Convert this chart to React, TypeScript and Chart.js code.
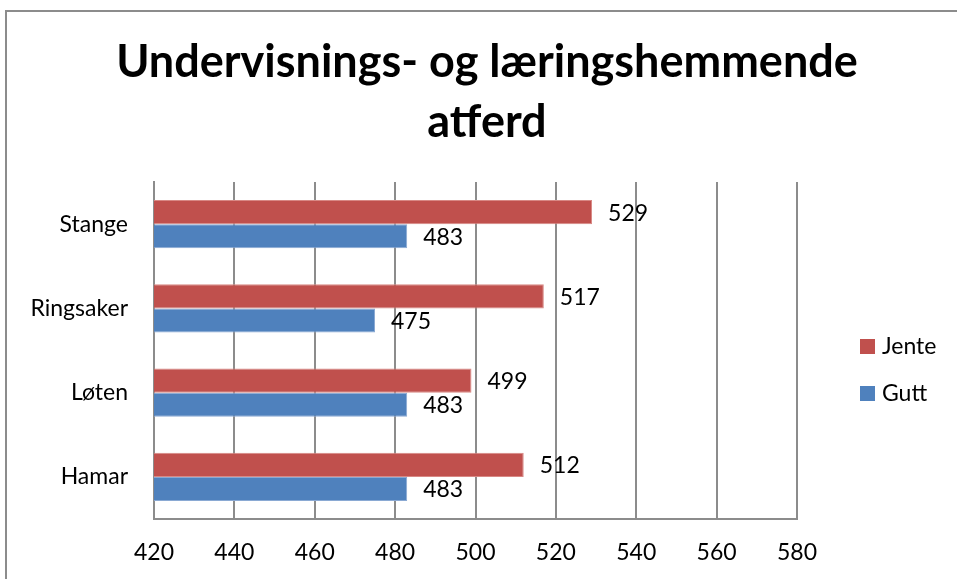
import React, { useEffect, useRef } from "react";
import { Chart, registerables } from "chart.js";

Chart.register(...registerables);

const categories = ["Stange", "Ringsaker", "Løten", "Hamar"];
const jente = [529, 517, 499, 512];
const gutt = [483, 475, 483, 483];
const seriesNames = ["Jente", "Gutt"];
const seriesColors = ["#C0504D", "#4F81BD"];
const xTicks = { min: 420, max: 580, step: 20 };
const titleLines = ["Undervisnings- og læringshemmende", "atferd"];

const FONT = "Lato, 'Open Sans', sans-serif";
const TXT = 23;

export default function App() {
  const ref = useRef<HTMLCanvasElement | null>(null);

  useEffect(() => {
    if (!ref.current) return;
    document.body.style.margin = "0";

    const valueLabels = {
      id: "valueLabels",
      afterDatasetsDraw(chart: any) {
        const ctx = chart.ctx;
        ctx.save();
        ctx.font = `${TXT}px ${FONT}`;
        ctx.fillStyle = "#000";
        ctx.textAlign = "left";
        ctx.textBaseline = "middle";
        chart.data.datasets.forEach((ds: any, di: number) => {
          const meta = chart.getDatasetMeta(di);
          meta.data.forEach((bar: any, i: number) => {
            ctx.fillText(String(ds.data[i]), bar.x + 16, bar.y + 1);
          });
        });
        ctx.restore();
      },
    };

    const customLegend = {
      id: "customLegend",
      afterDraw(chart: any) {
        const ctx = chart.ctx;
        ctx.save();
        ctx.font = `${TXT}px ${FONT}`;
        ctx.textAlign = "left";
        ctx.textBaseline = "middle";
        chart.data.datasets.forEach((ds: any, di: number) => {
          const cy = 346 + di * 47;
          ctx.fillStyle = ds.backgroundColor;
          ctx.fillRect(860, cy - 7, 15, 15);
          ctx.fillStyle = "#000";
          ctx.fillText(ds.label, 882, cy + 1);
        });
        ctx.restore();
      },
    };

    const chart = new Chart(ref.current, {
      type: "bar",
      data: {
        labels: categories,
        datasets: [
          {
            label: seriesNames[0],
            data: jente,
            backgroundColor: seriesColors[0],
            borderColor: "#D88884",
            borderWidth: 1,
          },
          {
            label: seriesNames[1],
            data: gutt,
            backgroundColor: seriesColors[1],
            borderColor: "#8AA9D3",
            borderWidth: 1,
          },
        ],
      },
      options: {
        indexAxis: "y",
        responsive: false,
        animation: false,
        devicePixelRatio: 1,
        datasets: {
          bar: {
            categoryPercentage: 0.57,
            barPercentage: 1,
          },
        },
        layout: {
          padding: { top: 22, right: 0, bottom: 0, left: 17 },
        },
        scales: {
          x: {
            min: xTicks.min,
            max: xTicks.max,
            ticks: {
              stepSize: xTicks.step,
              padding: 20,
              color: "#000",
              font: { family: FONT, size: TXT },
            },
            grid: {
              color: "#8C8C8C",
              lineWidth: 2,
              drawTicks: false,
            },
            border: { color: "#8C8C8C", width: 2 },
            afterFit(scale: any) {
              scale.height = 60;
            },
          },
          y: {
            ticks: {
              padding: 26,
              color: "#000",
              font: { family: FONT, size: TXT },
            },
            grid: { display: false, drawTicks: false },
            border: { color: "#8C8C8C", width: 2 },
            afterFit(scale: any) {
              scale.width = 137;
            },
          },
          legendSpace: {
            type: "category",
            position: "right",
            display: true,
            ticks: { display: false },
            grid: { display: false, drawTicks: false },
            border: { display: false },
            afterFit(scale: any) {
              scale.width = 160;
            },
          },
        },
        plugins: {
          legend: { display: false },
          tooltip: { enabled: false },
          title: {
            display: true,
            text: titleLines,
            color: "#000",
            font: { family: FONT, size: 45, weight: "bold", lineHeight: 60 / 45 },
            padding: { top: 10, bottom: 30 },
          },
        },
      },
      plugins: [valueLabels, customLegend],
    });

    return () => chart.destroy();
  }, []);

  return (
    <div style={{ position: "absolute", left: 0, top: 0, width: 957, height: 579, background: "#fff" }}>
      <canvas ref={ref} width={957} height={579} style={{ position: "absolute", left: 0, top: 0 }} />
      <div
        style={{
          position: "absolute",
          left: 5,
          top: 10,
          right: 0,
          bottom: 0,
          borderTop: "2px solid #8C8C8C",
          borderLeft: "2px solid #8C8C8C",
          pointerEvents: "none",
        }}
      />
    </div>
  );
}
